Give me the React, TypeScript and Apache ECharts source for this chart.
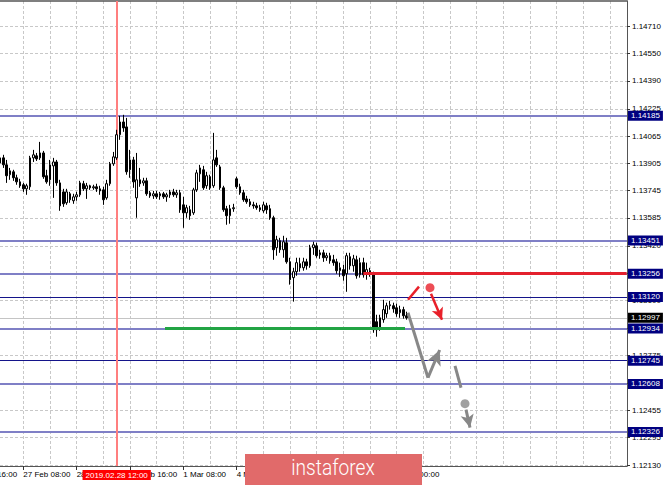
import React, { useEffect, useRef } from "react";
import * as echarts from "echarts";

// H1 candles [open, high, low, close]; first candle is bar index -7 (27 Feb 01:00), bar 0 = 27 Feb 08:00
const firstIndex = -7;
const candles: number[][] = [
  [1.13907, 1.13955, 1.1389, 1.13937],
  [1.13937, 1.13955, 1.13878, 1.13896],
  [1.13896, 1.13925, 1.1379, 1.13832],
  [1.13838, 1.13878, 1.13808, 1.13861],
  [1.13855, 1.13867, 1.13802, 1.1382],
  [1.1382, 1.13838, 1.13779, 1.13796],
  [1.13796, 1.13814, 1.13761, 1.13773],
  [1.13779, 1.1379, 1.13737, 1.13755],
  [1.13755, 1.13785, 1.1372, 1.13773],
  [1.13767, 1.13949, 1.13749, 1.13937],
  [1.13937, 1.13984, 1.13913, 1.13955],
  [1.13949, 1.13966, 1.13919, 1.13931],
  [1.13937, 1.14031, 1.13925, 1.13966],
  [1.13966, 1.13978, 1.13814, 1.13826],
  [1.13832, 1.13867, 1.13785, 1.13796],
  [1.13808, 1.13925, 1.13773, 1.13896],
  [1.1389, 1.13937, 1.13702, 1.13913],
  [1.13913, 1.13925, 1.13773, 1.1379],
  [1.1379, 1.13808, 1.13626, 1.13655],
  [1.13737, 1.13755, 1.13649, 1.13667],
  [1.13673, 1.13755, 1.13661, 1.13737],
  [1.13726, 1.13737, 1.13673, 1.13691],
  [1.13685, 1.13726, 1.13667, 1.13708],
  [1.13708, 1.13737, 1.13685, 1.1372],
  [1.1372, 1.13802, 1.13708, 1.1379],
  [1.13785, 1.13802, 1.13743, 1.13755],
  [1.13755, 1.1379, 1.13696, 1.13773],
  [1.13773, 1.13779, 1.13749, 1.13761],
  [1.13761, 1.13779, 1.13749, 1.13767],
  [1.13767, 1.13785, 1.13737, 1.13755],
  [1.13755, 1.13773, 1.1372, 1.13743],
  [1.13749, 1.13767, 1.13661, 1.13691],
  [1.13702, 1.13808, 1.13691, 1.13785],
  [1.13785, 1.13913, 1.13773, 1.13902],
  [1.13902, 1.13972, 1.1389, 1.13943],
  [1.13937, 1.14102, 1.13925, 1.14073],
  [1.14073, 1.14184, 1.14043, 1.14148],
  [1.14148, 1.1419, 1.1409, 1.14113],
  [1.14119, 1.14172, 1.13838, 1.13855],
  [1.13867, 1.13984, 1.1382, 1.13925],
  [1.13925, 1.13943, 1.13761, 1.13796],
  [1.13702, 1.13966, 1.13585, 1.13808],
  [1.13808, 1.13878, 1.13767, 1.13785],
  [1.1379, 1.1382, 1.13773, 1.13802],
  [1.13802, 1.1382, 1.13714, 1.13726],
  [1.13732, 1.13743, 1.13702, 1.13714],
  [1.13714, 1.13743, 1.13696, 1.13726],
  [1.13726, 1.13743, 1.13696, 1.13708],
  [1.13714, 1.13737, 1.13691, 1.13726],
  [1.13726, 1.13737, 1.13696, 1.13708],
  [1.13708, 1.13732, 1.13679, 1.1372],
  [1.1372, 1.13749, 1.13702, 1.13737],
  [1.13737, 1.13755, 1.13708, 1.1372],
  [1.1372, 1.13749, 1.13702, 1.13732],
  [1.13732, 1.13749, 1.13614, 1.13632],
  [1.13661, 1.13708, 1.13526, 1.13614],
  [1.13614, 1.13661, 1.13585, 1.13644],
  [1.13632, 1.13655, 1.13573, 1.13597],
  [1.13614, 1.13761, 1.13602, 1.13749],
  [1.13749, 1.13867, 1.13737, 1.13849],
  [1.13843, 1.13896, 1.13796, 1.13878],
  [1.13867, 1.1389, 1.13749, 1.13761],
  [1.13773, 1.13855, 1.13755, 1.13832],
  [1.13826, 1.13838, 1.13749, 1.13761],
  [1.13773, 1.14084, 1.13761, 1.13925],
  [1.13937, 1.13984, 1.13884, 1.13896],
  [1.13884, 1.13896, 1.13749, 1.13761],
  [1.13761, 1.13773, 1.1362, 1.13632],
  [1.13638, 1.13655, 1.13544, 1.13597],
  [1.13597, 1.13661, 1.1355, 1.13638],
  [1.13638, 1.13667, 1.1362, 1.13644],
  [1.13814, 1.13826, 1.13755, 1.13767],
  [1.13767, 1.13785, 1.1372, 1.13732],
  [1.13732, 1.13749, 1.13679, 1.13691],
  [1.13696, 1.13714, 1.13667, 1.13679],
  [1.13679, 1.13696, 1.13649, 1.13661],
  [1.13661, 1.13679, 1.13638, 1.13655],
  [1.13655, 1.13673, 1.13632, 1.13644],
  [1.13644, 1.13661, 1.1362, 1.13632],
  [1.13626, 1.13679, 1.13614, 1.13661],
  [1.13655, 1.13673, 1.13608, 1.13632],
  [1.13638, 1.13661, 1.13573, 1.13585],
  [1.13585, 1.13597, 1.13338, 1.13397],
  [1.13409, 1.13479, 1.13362, 1.13456],
  [1.1345, 1.13467, 1.13379, 1.13397],
  [1.13397, 1.13479, 1.1335, 1.13444],
  [1.13438, 1.13467, 1.13315, 1.13326],
  [1.13326, 1.1335, 1.13192, 1.13221],
  [1.13233, 1.13291, 1.13092, 1.13268],
  [1.13268, 1.1335, 1.13244, 1.13321],
  [1.13315, 1.1335, 1.13268, 1.13291],
  [1.13291, 1.1335, 1.13274, 1.13326],
  [1.13326, 1.13344, 1.1328, 1.13303],
  [1.13303, 1.13426, 1.13291, 1.13409],
  [1.13409, 1.13444, 1.13367, 1.13426],
  [1.1342, 1.13438, 1.1335, 1.13362],
  [1.13367, 1.13397, 1.13344, 1.13379],
  [1.13379, 1.13397, 1.13326, 1.1335],
  [1.1335, 1.13379, 1.13332, 1.13362],
  [1.13362, 1.13379, 1.13315, 1.13332],
  [1.13338, 1.13367, 1.13303, 1.13321],
  [1.13326, 1.13344, 1.13256, 1.13274],
  [1.13274, 1.13321, 1.13238, 1.13291],
  [1.1328, 1.13309, 1.13215, 1.13244],
  [1.13256, 1.13379, 1.1315, 1.13362],
  [1.13356, 1.13379, 1.1328, 1.13303],
  [1.13303, 1.13367, 1.13268, 1.13344],
  [1.13338, 1.13362, 1.13227, 1.13244],
  [1.1325, 1.1335, 1.13233, 1.13321],
  [1.13321, 1.1335, 1.13233, 1.1325],
  [1.13256, 1.13321, 1.13221, 1.1328],
  [1.13274, 1.13291, 1.13238, 1.1325],
  [1.1325, 1.13268, 1.12909, 1.12927],
  [1.12974, 1.13015, 1.12886, 1.12927],
  [1.12939, 1.13015, 1.12921, 1.12997],
  [1.12986, 1.13103, 1.12968, 1.13045],
  [1.13021, 1.13086, 1.12997, 1.13068],
  [1.13068, 1.13097, 1.13045, 1.13074],
  [1.13068, 1.13086, 1.13027, 1.1305],
  [1.13056, 1.1308, 1.13003, 1.13021],
  [1.13027, 1.13068, 1.12997, 1.13045],
  [1.13045, 1.13062, 1.12992, 1.13009],
  [1.13009, 1.13033, 1.12986, 1.12997],
];

// price axis tick labels
const yTickValues = [
  1.1471, 1.1455, 1.1439, 1.14225, 1.14065, 1.13905, 1.13745, 1.13585, 1.1342,
  1.1326, 1.131, 1.12935, 1.12775, 1.12615, 1.12455, 1.12295, 1.1213,
];
// time axis tick labels (bar index -> label)
const xTickIdx = [0, 16, 32, 48, 64, 80, 96, 112];
const xTickLabels = [
  "27 Feb 08:00", "28 Feb 00:00", "28 Feb 16:00", "1 Mar 08:00",
  "4 Mar 00:00", "4 Mar 16:00", "5 Mar 08:00", "6 Mar 00:00",
];
// label of the bar just left of the visible window (cut by the left edge)
const leadTickIdx = -16;
const leadTickLabel = "26 Feb 16:00";

// horizontal levels
const majorLevels = [1.14185, 1.13451, 1.13256, 1.12934, 1.12608, 1.12326];
const minorLevels = [1.1312, 1.12745];
const currentPrice = 1.12997;

// vertical time marker
const markerIdx = 28;
const markerLabel = "2019.02.28 12:00";

// resistance (red) and support (green) segments: [startIdx, endIdx, price]
const resistanceSeg = [102, 181, 1.13256];
const supportSeg = [42.5, 114.5, 1.12934];

// forecast annotations [barIndex, price]
const redDash = [[115.4, 1.13103], [118.7, 1.1318]];
const redDot = [122, 1.13174];
const redArrow = [[122.3, 1.13139], [125.6, 1.12985]];
const greyPath = [[115.4, 1.13027], [121.4, 1.12645], [124.9, 1.12808]];
const greyDash = [[129.5, 1.12715], [131.3, 1.12586]];
const greyDot = [132.5, 1.12492];
const greyArrow = [[132.8, 1.12457], [134.0, 1.12352]];

const priceMin = 1.12126;
const priceMax = 1.14859;
const idxMin = -7;
const idxMax = 181.1;

const FONT = "Liberation Sans";

export default function App() {
  const ref = useRef<HTMLDivElement>(null);

  useEffect(() => {
    if (!ref.current) return;
    const chart = echarts.init(ref.current, null, { renderer: "svg" });

    const gridIdx: number[] = [];
    for (let v = 0; v <= 176; v += 8) gridIdx.push(v);

    const candleData = candles.map((c, k) => [firstIndex + k, c[0], c[3], c[2], c[1]]);

    const tag = (bg: string) => ({
      show: true,
      position: "end",
      distance: 1,
      backgroundColor: bg,
      color: "#ffffff",
      fontSize: 8,
      fontFamily: FONT,
      padding: [1, 3, 0, 3],
      lineHeight: 9,
    });

    const levelLines: any[] = [
      ...majorLevels.map((v) => ({
        yAxis: v,
        lineStyle: { color: "#7f7fc6", width: 2, type: "solid" },
        label: { ...tag("#000080"), formatter: v.toFixed(5) },
      })),
      ...minorLevels.map((v) => ({
        yAxis: v,
        lineStyle: { color: "#14148a", width: 1, type: "solid" },
        label: { ...tag("#000080"), formatter: v.toFixed(5) },
      })),
      {
        yAxis: currentPrice,
        lineStyle: { color: "#c4c4c4", width: 1, type: "solid" },
        label: { ...tag("#000000"), formatter: currentPrice.toFixed(5) },
      },
      {
        xAxis: markerIdx,
        lineStyle: { color: "#ff7f7f", width: 2, type: "solid" },
        label: {
          show: true,
          position: "start",
          distance: 4,
          formatter: markerLabel,
          backgroundColor: "#ff0000",
          color: "#ffffff",
          fontSize: 8,
          fontFamily: FONT,
          padding: [1, 3, 0, 3],
          lineHeight: 9,
        },
      },
    ];

    const seg = (a: number[], b: number[], color: string, width: number, arrow = false, size: any = 10) => [
      { coord: a, symbol: "none", lineStyle: { color, width, type: "solid" } },
      { coord: b, symbol: arrow ? "arrow" : "none", symbolSize: size, itemStyle: { color } },
    ];

    const RED = "#e8202a";
    const GREY = "#888888";

    const annotLines: any[] = [
      seg([resistanceSeg[0], resistanceSeg[2]], [resistanceSeg[1], resistanceSeg[2]], "#e3202d", 3),
      seg([supportSeg[0], supportSeg[2]], [supportSeg[1], supportSeg[2]], "#22a444", 3),
      seg(redDash[0], redDash[1], RED, 2.5),
      seg(redArrow[0], redArrow[1], RED, 2.5, true, [9, 12]),
      seg(greyPath[0], greyPath[1], GREY, 3),
      seg(greyPath[1], greyPath[2], GREY, 3, true, [11, 15]),
      seg(greyDash[0], greyDash[1], GREY, 3),
      seg(greyArrow[0], greyArrow[1], GREY, 3, true, [10, 13]),
    ];

    const option: any = {
      animation: false,
      backgroundColor: "#ffffff",
      grid: { left: 0, right: 38, top: 1, bottom: 19, containLabel: false },
      xAxis: [
        {
          type: "value",
          min: idxMin,
          max: idxMax,
          position: "bottom",
          axisLine: { show: true, onZero: false, lineStyle: { color: "#555555", width: 1 } },
          axisTick: { show: true, length: 4, customValues: xTickIdx, lineStyle: { color: "#333333" } },
          axisLabel: {
            show: true,
            customValues: xTickIdx,
            formatter: (v: number) => xTickLabels[xTickIdx.indexOf(v)] ?? "",
            align: "left",
            margin: 4,
            fontSize: 8,
            fontFamily: FONT,
            color: "#000000",
          },
          splitLine: { show: false },
        },
        {
          type: "value",
          min: idxMin,
          max: idxMax,
          position: "top",
          axisLine: { show: true, onZero: false, lineStyle: { color: "#555555", width: 1.5 } },
          axisTick: { show: false, customValues: gridIdx },
          axisLabel: { show: false },
          splitLine: { show: true, lineStyle: { color: "#c8c8c8", width: 1, type: [3, 2] } },
        },
      ],
      yAxis: {
        type: "value",
        position: "right",
        min: priceMin,
        max: priceMax,
        axisLine: { show: true, onZero: false, lineStyle: { color: "#555555", width: 1 } },
        axisTick: { show: true, length: 3, customValues: yTickValues, lineStyle: { color: "#333333" } },
        axisLabel: {
          show: true,
          customValues: yTickValues,
          formatter: (v: number) => v.toFixed(5),
          margin: 5,
          fontSize: 8,
          fontFamily: FONT,
          color: "#000000",
        },
        splitLine: { show: true, lineStyle: { color: "#c8c8c8", width: 1, type: [3, 2] } },
      },
      series: [
        {
          type: "candlestick",
          name: "EURUSD H1",
          data: candleData,
          encode: { x: 0, y: [1, 2, 3, 4] },
          barWidth: 2,
          z: 3,
          itemStyle: {
            color: "#ffffff",
            color0: "#000000",
            borderColor: "#000000",
            borderColor0: "#000000",
            borderWidth: 1,
          },
          markLine: {
            silent: true,
            z: 1,
            precision: 5,
            animation: false,
            symbol: ["none", "none"],
            data: levelLines,
          },
        },
        {
          type: "scatter",
          name: "forecast",
          z: 6,
          silent: true,
          symbol: "circle",
          symbolSize: 9,
          data: [
            { value: redDot, itemStyle: { color: RED } },
            { value: greyDot, itemStyle: { color: GREY } },
          ],
          markLine: {
            silent: true,
            z: 5,
            precision: 5,
            animation: false,
            label: { show: false },
            data: annotLines,
          },
        },
      ],
    };

    chart.setOption(option);

    // the cut-off time label left of the window, placed through the axis scale
    const leadX = chart.convertToPixel({ xAxisIndex: 0 }, leadTickIdx) as number;
    const axisY = chart.convertToPixel({ yAxisIndex: 0 }, priceMin) as number;
    chart.setOption({
      graphic: [
        {
          type: "text",
          z: 50,
          x: leadX,
          y: axisY + 4,
          style: {
            text: leadTickLabel,
            fill: "#000000",
            fontSize: 8,
            fontFamily: FONT,
            align: "left",
            verticalAlign: "top",
          },
        },
        {
          type: "rect",
          z: 100,
          shape: { x: 245, y: 454, width: 177, height: 40 },
          style: { fill: "#e16a6a" },
        },
        {
          type: "text",
          z: 101,
          x: 333,
          y: 468,
          scaleX: 0.87,
          style: {
            text: "instaforex",
            fill: "#ffffff",
            fontSize: 22,
            fontFamily: "Roboto",
            fontWeight: 300,
            align: "center",
            verticalAlign: "middle",
          },
        },
      ],
    });

    return () => chart.dispose();
  }, []);

  return (
    <div
      ref={ref}
      style={{ position: "fixed", left: 0, top: 0, width: 665, height: 485, background: "#fff" }}
    />
  );
}
